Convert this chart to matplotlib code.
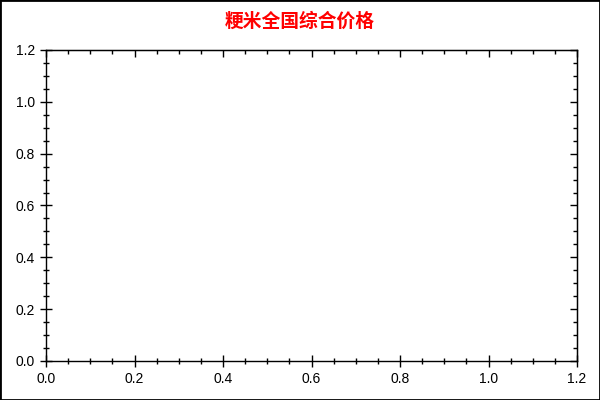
import matplotlib
matplotlib.use("Agg")
import matplotlib.pyplot as plt
from matplotlib.ticker import MultipleLocator, FormatStrFormatter, NullFormatter
from matplotlib.patches import Rectangle

title = "粳米全国综合价格"
x_values = []
y_values = []
x_limits = [0.0, 1.2]
y_limits = [0.0, 1.2]

fig = plt.figure(figsize=(6, 4), dpi=100)
ax = fig.add_axes([46/600, 1 - 361/400, (577-46)/600, (361-50)/400])
ax.plot(x_values, y_values)
ax.set_xlim(*x_limits)
ax.set_ylim(*y_limits)
for axis in (ax.xaxis, ax.yaxis):
    axis.set_major_locator(MultipleLocator(0.2))
    axis.set_minor_locator(MultipleLocator(0.05))
    axis.set_major_formatter(FormatStrFormatter('%.1f'))
ax.tick_params(which='major', direction='inout', length=9, width=1, labelsize=10,
               color='black')
ax.tick_params(which='minor', direction='inout', length=5, width=1)
for lab in ax.get_xticklabels() + ax.get_yticklabels():
    lab.set_fontfamily('Liberation Sans')
for sp in ax.spines.values():
    sp.set_linewidth(1)

top = ax.secondary_xaxis('top')
right = ax.secondary_yaxis('right')
for sec, axis in ((top, top.xaxis), (right, right.yaxis)):
    axis.set_major_locator(MultipleLocator(0.2))
    axis.set_minor_locator(MultipleLocator(0.05))
    axis.set_major_formatter(NullFormatter())
    sec.tick_params(which='major', direction='in', length=5, width=1)
    sec.tick_params(which='minor', direction='in', length=3, width=1)

fig.text(0.5, 1 - 21/400, title, ha='center', va='center', color='#ff0000',
         fontsize=13.5, fontweight='bold', family=['Noto Sans CJK SC', 'DejaVu Sans'])
fig.patches.append(Rectangle((0, 0), 1, 1, transform=fig.transFigure, fill=False,
                             edgecolor='black', linewidth=2, clip_on=False))
fig.savefig("out.png", dpi=100)
